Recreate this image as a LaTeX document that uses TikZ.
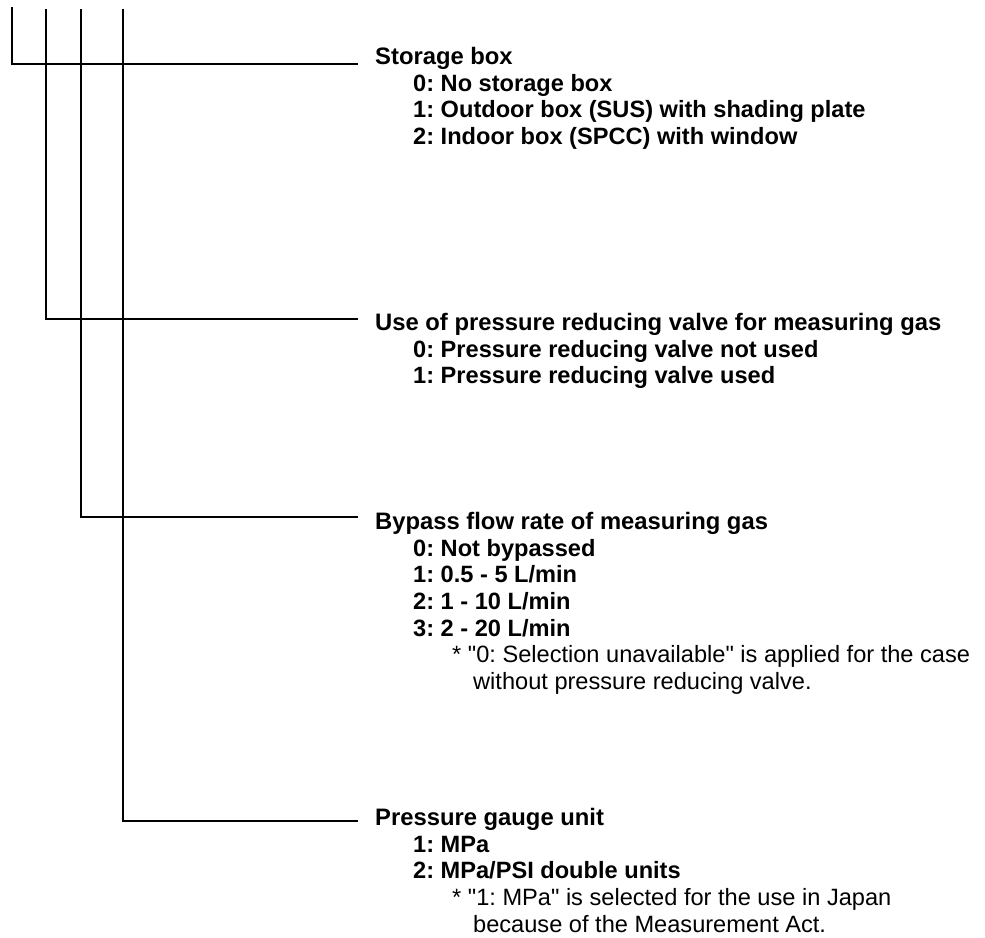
\documentclass[tikz,border=0pt]{standalone}
\usepackage{fontspec}
\setmainfont{Liberation Sans}
\frenchspacing
\newcommand{\qq}{\textquotedbl}
\begin{document}
\begin{tikzpicture}[x=1pt,y=-1pt,
  ln/.style={line width=1.4pt},
  ttl/.style={anchor=base west,inner sep=0pt,font=\fontsize{23.8}{27}\selectfont\bfseries},
  itm/.style={anchor=base west,inner sep=0pt,font=\fontsize{23.6}{27}\selectfont\bfseries},
  nte/.style={anchor=base west,inner sep=0pt,font=\fontsize{23.6}{27}\selectfont}]
\useasboundingbox (0,0) rectangle (985,937);
% vertical tops
\coordinate (a0) at (12,7);
\coordinate (b0) at (46,9);
\coordinate (c0) at (81,9);
\coordinate (d0) at (123,9);
% line ends
\coordinate (a1) at (358,64);
\coordinate (b1) at (358,319);
\coordinate (c1) at (358,517);
\coordinate (d1) at (358,821);
\draw[ln] (a0) |- (a1);
\draw[ln] (b0) |- (b1);
\draw[ln] (c0) |- (c1);
\draw[ln] (d0) |- (d1);
% Storage box
\node[ttl] (s) at (375,64) {Storage box};
\node[itm] (s0) at (413,91) {0: No storage box};
\node[itm] (s1) at (413,117) {1: Outdoor box (SUS) with shading plate};
\node[itm] (s2) at (413,144) {2: Indoor box (SPCC) with window};
% Pressure reducing valve
\node[ttl] (u) at (375,330) {Use of pressure reducing valve for measuring gas};
\node[itm] (u0) at (413,357) {0: Pressure reducing valve not used};
\node[itm] (u1) at (413,383) {1: Pressure reducing valve used};
% Bypass
\node[ttl] (b) at (375,529) {Bypass flow rate of measuring gas};
\node[itm] (b0n) at (413,556) {0: Not bypassed};
\node[itm] (b1n) at (413,582) {1: 0.5 - 5 L/min};
\node[itm] (b2n) at (413,609) {2: 1 - 10 L/min};
\node[itm] (b3n) at (413,636) {3: 2 - 20 L/min};
\node[nte] (bn1) at (452,662) {* \qq0: Selection unavailable\qq{} is applied for the case};
\node[nte] (bn2) at (473,689) {without pressure reducing valve.};
% Pressure gauge
\node[ttl] (p) at (375,825) {Pressure gauge unit};
\node[itm] (p1) at (413,852) {1: MPa};
\node[itm] (p2) at (413,878) {2: MPa/PSI double units};
\node[nte] (pn1) at (452,905) {* \qq1: MPa\qq{} is selected for the use in Japan};
\node[nte] (pn2) at (473,932) {because of the Measurement Act.};
\end{tikzpicture}
\end{document}
